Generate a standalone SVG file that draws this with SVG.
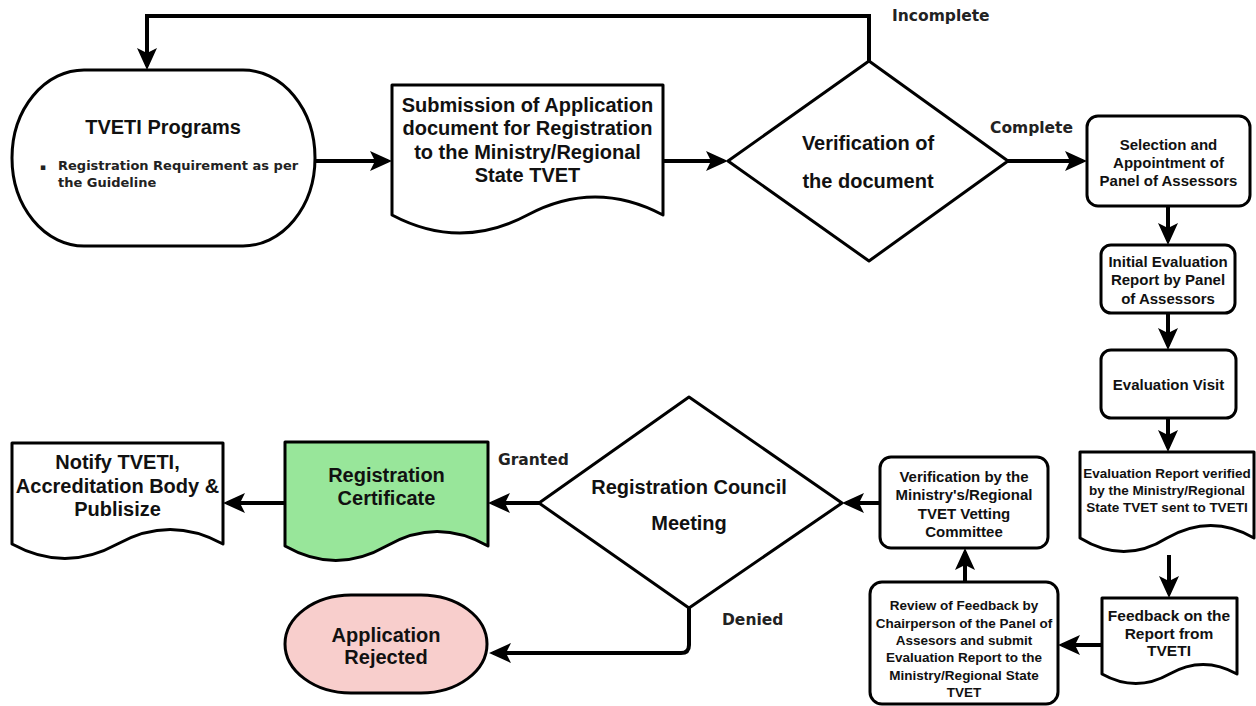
<svg xmlns="http://www.w3.org/2000/svg" width="1256" height="706" viewBox="0 0 1256 706">
<defs>
<style>
.s{fill:#fff;stroke:#000;stroke-width:3;stroke-linejoin:round}
.c{fill:none;stroke:#000;stroke-width:4;marker-end:url(#ah)}
.t{font-family:"Liberation Sans",Arial,sans-serif;font-weight:bold;fill:#111;text-anchor:middle}
.l{font-family:"DejaVu Sans",Verdana,sans-serif;font-weight:bold;fill:#222;font-size:15.5px}
</style>
<marker id="ah" viewBox="0 0 22 20" markerWidth="22" markerHeight="20" refX="18" refY="10" orient="auto" markerUnits="userSpaceOnUse"><path d="M0,0 L22,10 L0,20 L5,10 Z" fill="#000"/></marker>
</defs>
<rect width="1256" height="706" fill="#fff"/>
<g id="connectors">
<path class="c" d="M315,161 H388"/>
<path class="c" d="M663,161 H724"/>
<path class="c" d="M869,61 V16 H147 V66" stroke-linejoin="miter"/>
<path class="c" d="M1008,161 H1083"/>
<path class="c" d="M1168,206 V241"/>
<path class="c" d="M1168,313 V346"/>
<path class="c" d="M1168,418 V448"/>
<path class="c" d="M1169,555 V594"/>
<path class="c" d="M1102,645 H1062"/>
<path class="c" d="M965,582 V552"/>
<path class="c" d="M880,503 H846"/>
<path class="c" d="M539,503 H492"/>
<path class="c" d="M285,503 H227"/>
<path class="c" d="M689,608 V645 Q689,653 681,653 H493"/>
<text class="l" x="892" y="21">Incomplete</text>
<text class="l" x="990" y="133">Complete</text>
<text class="l" x="498" y="465">Granted</text>
<text class="l" x="722" y="625">Denied</text>
</g>
<g id="tveti">
<rect class="s" x="12" y="70" width="303" height="176" rx="72" ry="88"/>
<text class="t" x="163" y="134" font-size="20">TVETI Programs</text>
<text font-family="DejaVu Sans,Verdana,sans-serif" font-weight="bold" font-size="13" fill="#222"><tspan x="40" y="170" font-size="9">▪</tspan><tspan x="58" y="170">Registration Requirement as per</tspan><tspan x="58" y="187">the Guideline</tspan></text>
</g>
<g id="submission">
<path class="s" d="M392,85 H663 V215 Q595,179 527.5,215 Q460,251 392,215 Z"/>
<text class="t" font-size="20"><tspan x="527.5" y="112">Submission of Application</tspan><tspan x="527.5" y="135">document for Registration</tspan><tspan x="527.5" y="159">to the Ministry/Regional</tspan><tspan x="527.5" y="182">State TVET</tspan></text>
</g>
<g id="verify-doc">
<path class="s" d="M728,161 L869,61 L1008,161 L869,261 Z"/>
<text class="t" font-size="20"><tspan x="868" y="150">Verification of</tspan><tspan x="868" y="188">the document</tspan></text>
</g>
<g id="selection">
<rect class="s" x="1087" y="116" width="163" height="90" rx="11"/>
<text class="t" font-size="15"><tspan x="1168.5" y="150">Selection and</tspan><tspan x="1168.5" y="168">Appointment of</tspan><tspan x="1168.5" y="186">Panel of Assessors</tspan></text>
</g>
<g id="initial">
<rect class="s" x="1101" y="245" width="134" height="68" rx="10"/>
<text class="t" font-size="15"><tspan x="1168" y="267">Initial Evaluation</tspan><tspan x="1168" y="285">Report by Panel</tspan><tspan x="1168" y="304">of Assessors</tspan></text>
</g>
<g id="visit">
<rect class="s" x="1101" y="350" width="135" height="68" rx="10"/>
<text class="t" font-size="15" x="1168.5" y="390">Evaluation Visit</text>
</g>
<g id="eval-report">
<path class="s" d="M1080,452 H1254 V538 Q1211,513 1167,538 Q1124,565 1080,538 Z"/>
<text class="t" font-size="13.5"><tspan x="1167" y="478">Evaluation Report verified</tspan><tspan x="1167" y="495">by the Ministry/Regional</tspan><tspan x="1167" y="512">State TVET sent to TVETI</tspan></text>
</g>
<g id="feedback">
<path class="s" d="M1102,598 H1237 V674 Q1203,655 1169.5,674 Q1136,693 1102,674 Z"/>
<text class="t" font-size="15.5"><tspan x="1169" y="620.5">Feedback on the</tspan><tspan x="1169" y="638.5">Report from</tspan><tspan x="1169" y="656">TVETI</tspan></text>
</g>
<g id="review">
<rect class="s" x="870" y="582" width="188" height="122" rx="12"/>
<text class="t" font-size="13.5"><tspan x="964" y="610">Review of Feedback by</tspan><tspan x="964" y="627.5">Chairperson of the Panel of</tspan><tspan x="964" y="645">Assesors and submit</tspan><tspan x="964" y="662">Evaluation Report to the</tspan><tspan x="964" y="680">Ministry/Regional State</tspan><tspan x="964" y="697">TVET</tspan></text>
</g>
<g id="vetting">
<rect class="s" x="880" y="457" width="168" height="91" rx="11"/>
<text class="t" font-size="15"><tspan x="964" y="482">Verification by the</tspan><tspan x="964" y="500">Ministry's/Regional</tspan><tspan x="964" y="519">TVET Vetting</tspan><tspan x="964" y="537">Committee</tspan></text>
</g>
<g id="council">
<path class="s" d="M539,503 L689,397 L842,503 L689,608 Z"/>
<text class="t" font-size="20"><tspan x="689" y="494">Registration Council</tspan><tspan x="689" y="530">Meeting</tspan></text>
</g>
<g id="certificate">
<path class="s" d="M285,442 H488 V546 Q437,517 386.5,546 Q336,575 285,546 Z" style="fill:#98E69A"/>
<text class="t" font-size="20"><tspan x="386.5" y="482">Registration</tspan><tspan x="386.5" y="505">Certificate</tspan></text>
</g>
<g id="notify">
<path class="s" d="M12,443 H223 V544 Q170,515 117.5,544 Q65,573 12,544 Z"/>
<text class="t" font-size="20"><tspan x="117.5" y="469">Notify TVETI,</tspan><tspan x="117.5" y="493">Accreditation Body &amp;</tspan><tspan x="117.5" y="516">Publisize</tspan></text>
</g>
<g id="rejected">
<rect class="s" x="285" y="595" width="202" height="98" rx="66" ry="49" style="fill:#F8CECC"/>
<text class="t" font-size="20"><tspan x="386" y="642">Application</tspan><tspan x="386" y="664">Rejected</tspan></text>
</g>
</svg>
